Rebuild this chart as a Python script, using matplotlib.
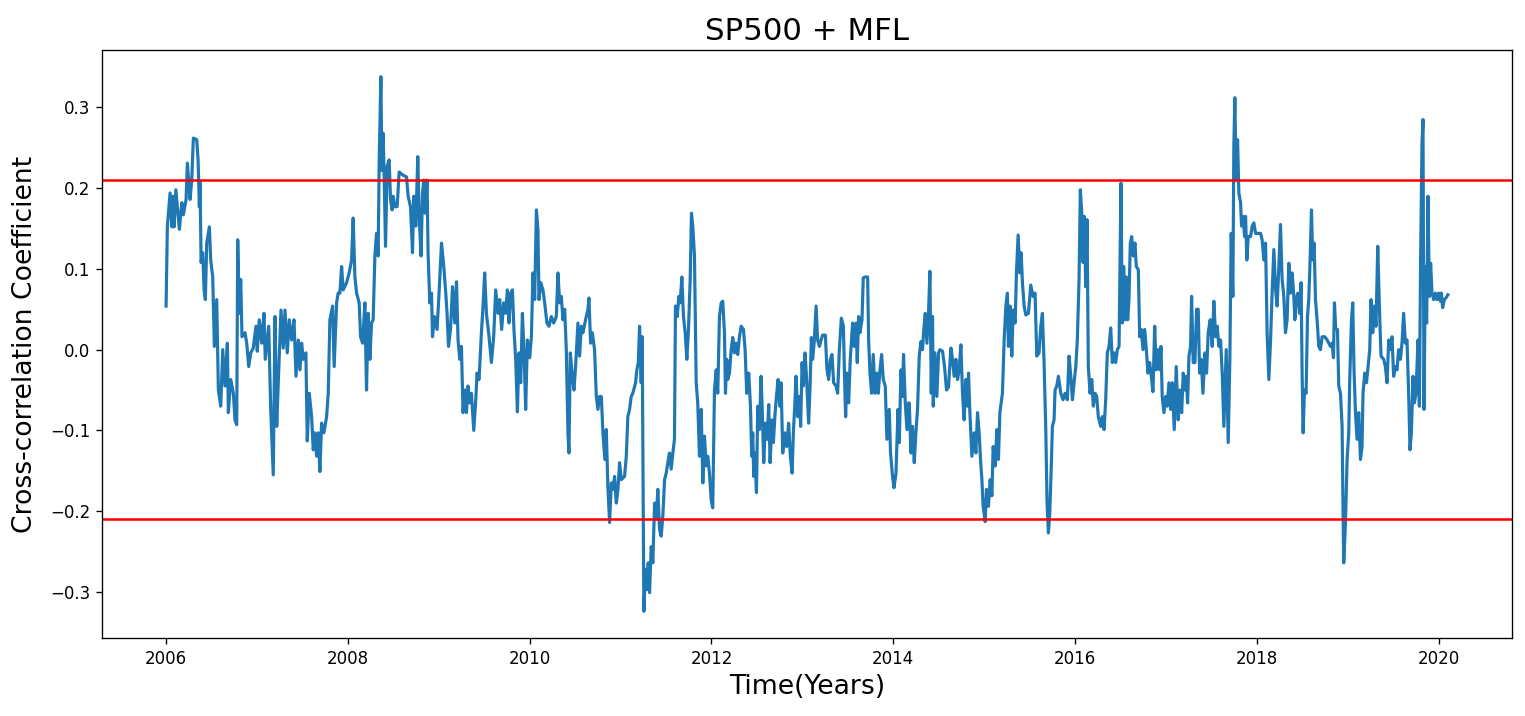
import matplotlib
matplotlib.use("Agg")
import matplotlib.pyplot as plt
import numpy as np

years = [
2006.000,2006.014,2006.044,2006.063,2006.074,2006.088,2006.107,2006.146,2006.173,2006.190,
2006.220,2006.234,2006.264,2006.282,2006.300,2006.337,2006.352,2006.366,2006.374,2006.385,
2006.403,2006.418,2006.432,2006.447,2006.476,2006.491,2006.513,2006.531,2006.557,2006.575,
2006.601,2006.623,2006.648,2006.674,2006.685,2006.711,2006.740,2006.758,2006.777,2006.788,
2006.805,2006.821,2006.835,2006.868,2006.887,2006.909,2006.931,2006.959,2006.989,2007.003,
2007.025,2007.052,2007.077,2007.091,2007.129,2007.151,2007.165,2007.179,2007.198,2007.217,
2007.234,2007.264,2007.289,2007.308,2007.333,2007.355,2007.381,2007.407,2007.429,2007.454,
2007.473,2007.491,2007.509,2007.538,2007.553,2007.575,2007.601,2007.619,2007.637,2007.656,
2007.674,2007.692,2007.711,2007.736,2007.766,2007.784,2007.802,2007.832,2007.849,2007.876,
2007.893,
2007.912,2007.931,2007.948,2007.986,2008.014,2008.041,2008.058,2008.077,2008.096,2008.124,
2008.140,2008.162,2008.187,2008.205,2008.223,2008.242,2008.260,2008.278,2008.297,2008.315,
2008.333,2008.344,2008.352,2008.363,2008.374,2008.388,2008.399,2008.414,2008.432,2008.454,
2008.469,2008.487,2008.498,2008.516,2008.542,2008.564,2008.608,2008.645,2008.663,2008.689,
2008.711,2008.725,2008.747,2008.769,2008.784,2008.805,2008.821,2008.835,2008.850,2008.871,
2008.882,2008.901,2008.920,2008.931,2008.953,2008.981,2009.003,2009.030,2009.055,2009.077,
2009.091,2009.107,2009.129,2009.151,2009.176,2009.195,2009.212,2009.231,2009.249,2009.267,
2009.286,2009.304,2009.322,2009.341,2009.359,2009.385,2009.407,2009.421,2009.443,2009.469,
2009.487,2009.505,2009.524,2009.553,2009.579,2009.604,2009.626,2009.652,2009.670,2009.692,
2009.714,2009.736,2009.755,2009.773,2009.791,2009.810,2009.827,2009.846,2009.865,2009.882,
2009.901,2009.920,2009.938,2009.956,2009.975,
2010.000,2010.019,2010.036,2010.055,2010.074,2010.091,2010.102,2010.121,2010.146,2010.165,
2010.190,2010.212,2010.238,2010.264,2010.293,2010.311,2010.330,2010.348,2010.366,2010.385,
2010.403,2010.421,2010.432,2010.447,2010.469,2010.487,2010.505,2010.531,2010.549,2010.568,
2010.586,2010.615,2010.641,2010.652,2010.670,2010.689,2010.714,2010.733,2010.751,2010.769,
2010.788,2010.806,2010.827,2010.843,2010.860,2010.879,2010.898,2010.916,2010.934,2010.953,
2010.971,2010.989,2011.008,2011.044,2011.063,2011.080,2011.099,2011.117,2011.135,2011.165,
2011.179,2011.195,2011.209,2011.227,2011.238,2011.245,2011.256,2011.275,2011.289,2011.304,
2011.319,2011.337,2011.355,2011.374,2011.392,2011.410,2011.429,2011.447,2011.465,2011.484,
2011.502,2011.520,2011.538,2011.557,2011.575,2011.593,2011.604,2011.623,2011.641,2011.656,
2011.674,2011.692,2011.711,2011.729,2011.747,2011.766,2011.780,2011.795,2011.813,2011.832,
2011.849,2011.868,2011.887,2011.905,2011.923,2011.942,2011.959,2011.978,2011.997,2012.014,
2012.033,2012.052,2012.069,2012.088,
2012.107,2012.124,2012.143,2012.154,2012.168,2012.179,2012.198,2012.217,2012.234,2012.253,
2012.271,2012.289,2012.308,2012.326,2012.352,2012.370,2012.388,2012.410,2012.429,2012.443,
2012.454,2012.465,2012.476,2012.495,2012.509,2012.527,2012.546,2012.557,2012.575,2012.593,
2012.612,2012.630,2012.645,2012.667,2012.681,2012.700,2012.718,2012.733,2012.751,2012.766,
2012.784,2012.806,2012.827,2012.849,2012.868,2012.887,2012.901,2012.916,2012.931,2012.949,
2012.967,2012.981,2012.997,2013.011,2013.030,2013.047,2013.069,2013.085,2013.099,2013.113,
2013.132,2013.151,2013.168,2013.187,2013.206,2013.223,2013.253,2013.271,2013.289,2013.308,
2013.326,2013.344,2013.370,2013.388,2013.407,2013.429,2013.451,2013.465,2013.476,2013.491,
2013.509,2013.527,2013.553,2013.571,2013.590,2013.604,2013.619,2013.634,2013.656,2013.670,
2013.692,2013.718,2013.729,2013.744,2013.762,2013.780,2013.799,2013.817,2013.835,2013.854,
2013.872,2013.890,2013.912,2013.930,2013.956,2013.970,2013.992,2014.008,2014.030,2014.052,
2014.066,2014.085,2014.102,2014.113,2014.132,2014.151,2014.168,
2014.176,2014.195,2014.212,2014.231,2014.249,2014.267,2014.286,2014.304,2014.322,2014.333,
2014.352,2014.370,2014.388,2014.403,2014.418,2014.432,2014.440,2014.458,2014.480,2014.498,
2014.513,2014.542,2014.564,2014.586,2014.608,2014.634,2014.652,2014.670,2014.689,2014.707,
2014.725,2014.744,2014.762,2014.780,2014.799,2014.817,2014.828,2014.843,2014.865,2014.890,
2014.909,2014.927,2014.945,2014.960,2014.975,2014.989,2015.011,2015.025,2015.047,2015.066,
2015.085,2015.099,2015.121,2015.140,2015.157,2015.173,2015.201,2015.220,2015.239,2015.256,
2015.267,2015.286,2015.304,2015.319,2015.341,2015.355,2015.374,2015.392,2015.407,2015.421,
2015.440,2015.458,2015.487,2015.513,2015.538,2015.560,2015.579,2015.604,2015.623,2015.641,
2015.659,2015.678,2015.692,2015.707,2015.722,2015.736,2015.751,2015.769,2015.780,2015.799,
2015.817,2015.843,2015.868,2015.890,2015.915,2015.934,2015.953,2015.971,2015.989,2016.008,
2016.025,2016.044,2016.058,2016.074,2016.088,2016.102,2016.117,2016.132,2016.146,2016.165,
2016.184,2016.201,2016.220,2016.238,2016.256,
2016.282,2016.300,2016.319,2016.337,2016.355,2016.374,2016.392,2016.410,2016.429,2016.447,
2016.465,2016.484,2016.505,2016.520,2016.535,2016.549,2016.564,2016.579,2016.593,2016.608,
2016.623,2016.641,2016.659,2016.674,2016.696,2016.711,2016.729,2016.747,2016.766,2016.784,
2016.802,2016.821,2016.839,2016.857,2016.876,2016.893,2016.912,2016.931,2016.945,2016.959,
2016.978,2016.997,2017.014,2017.033,2017.052,2017.069,2017.091,2017.113,2017.135,2017.154,
2017.173,2017.190,2017.209,2017.223,2017.238,2017.253,2017.271,2017.282,2017.300,2017.319,
2017.337,2017.355,2017.370,2017.388,2017.407,2017.429,2017.447,2017.465,2017.487,2017.509,
2017.527,2017.546,2017.564,2017.582,2017.601,2017.619,2017.637,2017.663,2017.685,2017.703,
2017.718,2017.736,2017.747,2017.758,2017.772,2017.788,2017.802,2017.821,2017.832,2017.849,
2017.865,2017.876,2017.890,2017.905,2017.931,2017.949,2017.967,2017.986,2018.014,2018.041,
2018.058,2018.077,2018.096,2018.113,2018.132,2018.151,2018.168,2018.187,2018.206,2018.223,
2018.242,2018.260,2018.278,2018.297,2018.315,2018.333,
2018.352,2018.370,2018.388,2018.407,2018.418,2018.432,2018.451,2018.469,2018.487,2018.498,
2018.509,2018.524,2018.542,2018.557,2018.571,2018.586,2018.601,2018.615,2018.630,2018.645,
2018.663,2018.681,2018.700,2018.718,2018.747,2018.773,2018.791,2018.810,2018.827,2018.843,
2018.854,2018.868,2018.887,2018.901,2018.920,2018.938,2018.949,2018.956,2018.975,2018.993,
2019.011,2019.022,2019.041,2019.055,2019.069,2019.085,2019.102,2019.121,2019.140,2019.157,
2019.168,2019.187,2019.206,2019.223,2019.242,2019.256,2019.275,2019.293,2019.311,2019.330,
2019.348,2019.366,2019.396,2019.414,2019.432,2019.451,2019.469,2019.487,2019.505,2019.524,
2019.542,2019.560,2019.579,2019.597,2019.615,2019.634,2019.652,2019.670,2019.685,2019.700,
2019.718,2019.733,2019.751,2019.773,2019.788,2019.802,2019.817,2019.828,2019.839,2019.854,
2019.868,2019.883,2019.898,2019.912,2019.927,2019.945,2019.964,2019.982,2020.000,2020.019,
2020.030,2020.044,2020.063,2020.080,2020.102,
]

corr = [
0.054,0.153,0.194,0.152,0.190,0.152,0.198,0.149,0.182,0.167,
0.186,0.231,0.186,0.210,0.262,0.260,0.235,0.177,0.207,0.108,
0.120,0.074,0.062,0.132,0.152,0.111,0.090,0.004,0.062,-0.050,
-0.070,0.000,-0.045,0.008,-0.078,-0.037,-0.054,-0.087,-0.093,0.136,
0.045,0.087,0.016,0.021,0.008,-0.021,-0.004,0.002,0.029,-0.002,
0.037,0.008,0.045,-0.012,0.029,-0.074,-0.115,-0.155,0.041,-0.095,
-0.041,0.049,0.002,0.049,-0.004,0.037,0.012,0.037,-0.033,0.012,
-0.025,0.008,-0.012,-0.004,-0.113,-0.054,-0.083,-0.124,-0.103,-0.132,
-0.103,-0.151,-0.091,-0.103,-0.083,-0.054,0.037,0.054,-0.021,0.058,
0.070,
0.070,0.103,0.074,0.083,0.095,0.111,0.163,0.090,0.070,0.058,
0.016,0.008,0.058,-0.050,0.045,-0.012,0.033,0.037,0.116,0.144,
0.116,0.231,0.276,0.338,0.222,0.268,0.215,0.128,0.227,0.235,
0.186,0.173,0.190,0.177,0.177,0.220,0.216,0.214,0.190,0.177,
0.120,0.190,0.153,0.239,0.165,0.116,0.194,0.210,0.169,0.210,
0.120,0.058,0.070,0.016,0.041,0.025,0.070,0.132,0.103,0.070,
0.045,0.004,0.025,0.078,0.033,0.084,0.012,-0.012,0.004,-0.078,
-0.050,-0.078,-0.045,-0.066,-0.054,-0.100,-0.062,-0.029,-0.037,0.021,
0.054,0.095,0.045,0.016,-0.016,0.016,0.074,0.045,0.062,0.025,
0.058,0.045,0.074,0.033,0.070,0.074,0.025,-0.012,-0.077,-0.004,
-0.041,0.045,-0.004,-0.074,0.012,
-0.010,0.016,0.095,0.062,0.173,0.148,0.062,0.083,0.074,0.058,
0.033,0.029,0.041,0.033,0.041,0.095,0.058,0.066,0.037,0.050,
0.000,-0.103,-0.128,-0.004,-0.033,-0.050,-0.021,0.033,-0.008,0.029,
0.021,0.037,0.050,0.064,0.008,0.021,0.000,-0.058,-0.074,-0.058,
-0.058,-0.103,-0.136,-0.099,-0.169,-0.214,-0.165,-0.173,-0.157,-0.190,
-0.173,-0.140,-0.161,-0.157,-0.132,-0.083,-0.074,-0.058,-0.054,-0.041,
-0.025,-0.016,0.029,-0.041,0.016,-0.124,-0.324,-0.272,-0.297,-0.264,
-0.301,-0.244,-0.264,-0.190,-0.210,-0.173,-0.223,-0.231,-0.206,-0.161,
-0.153,-0.140,-0.128,-0.148,-0.128,-0.111,0.054,0.041,0.066,0.058,
0.090,0.041,0.021,-0.012,0.025,0.087,0.169,0.152,0.116,-0.041,
-0.066,-0.132,-0.074,-0.165,-0.107,-0.144,-0.132,-0.153,-0.186,-0.196,
-0.050,-0.025,-0.054,0.041,
0.058,0.060,0.021,-0.054,-0.012,-0.037,-0.029,0.000,0.015,-0.004,
0.008,-0.006,0.016,0.029,0.025,0.000,-0.054,-0.029,-0.070,-0.132,
-0.103,-0.157,-0.128,-0.177,-0.070,-0.099,-0.033,-0.070,-0.140,-0.091,
-0.111,-0.068,-0.140,-0.087,-0.115,-0.078,-0.054,-0.037,-0.070,-0.041,
-0.128,-0.103,-0.120,-0.091,-0.132,-0.153,-0.103,-0.070,-0.033,-0.083,
-0.058,-0.095,-0.016,-0.045,-0.004,-0.037,-0.091,-0.045,0.015,-0.012,
0.012,0.054,0.012,0.004,0.012,0.018,0.018,-0.025,-0.037,-0.012,
-0.006,-0.041,-0.045,-0.054,0.000,0.039,0.029,-0.037,-0.083,-0.029,
-0.066,-0.012,0.033,0.004,0.033,-0.016,0.041,0.021,0.037,0.089,
0.090,0.090,0.012,-0.029,-0.054,-0.006,-0.054,-0.029,-0.054,-0.025,
-0.006,-0.037,-0.045,-0.111,-0.074,-0.128,-0.157,-0.171,-0.153,-0.074,
-0.115,-0.025,-0.058,-0.006,-0.066,-0.099,-0.066,
-0.066,-0.128,-0.095,-0.140,-0.103,-0.074,-0.008,0.010,0.000,0.021,
0.045,0.008,0.045,0.097,-0.054,0.041,-0.070,-0.004,-0.058,-0.004,
0.000,-0.002,-0.021,-0.050,-0.046,0.002,-0.012,-0.033,-0.012,-0.037,
-0.025,0.006,-0.054,-0.087,-0.037,-0.070,-0.029,-0.078,-0.132,-0.103,
-0.128,-0.078,-0.103,-0.136,-0.161,-0.194,-0.213,-0.173,-0.194,-0.161,
-0.181,-0.120,-0.144,-0.099,-0.136,-0.078,-0.054,0.012,0.054,0.070,
0.004,0.054,-0.008,0.049,0.033,0.095,0.142,0.095,0.120,0.083,
0.054,0.043,0.045,0.080,0.066,0.070,-0.008,-0.004,0.029,0.045,
-0.016,-0.099,-0.190,-0.227,-0.202,-0.153,-0.095,-0.087,-0.050,-0.045,
-0.033,-0.054,-0.062,-0.054,-0.062,-0.008,-0.033,-0.062,-0.041,-0.021,
0.012,0.087,0.198,0.169,0.108,0.165,0.078,0.161,-0.021,-0.054,
-0.037,-0.070,-0.054,-0.058,-0.083,
-0.095,-0.083,-0.099,-0.062,-0.004,0.004,0.027,-0.016,-0.004,-0.016,
0.000,0.004,0.206,0.033,0.103,0.037,0.090,0.037,0.062,0.132,
0.140,0.116,0.132,0.103,0.099,0.016,0.025,0.000,0.025,0.000,
-0.029,-0.016,-0.033,-0.052,0.029,-0.025,0.000,-0.025,0.004,-0.058,
-0.078,-0.058,-0.070,-0.041,-0.074,-0.041,-0.099,-0.021,-0.087,-0.050,
-0.078,-0.029,-0.050,-0.033,-0.066,-0.008,0.004,0.066,-0.016,-0.016,
0.050,0.050,-0.029,-0.012,-0.054,-0.004,-0.029,0.021,0.037,0.004,
0.060,0.016,0.029,0.004,0.012,-0.029,-0.095,0.000,-0.115,-0.012,
0.144,0.066,0.252,0.312,0.210,0.260,0.194,0.182,0.153,0.165,
0.140,0.165,0.111,0.140,0.140,0.153,0.157,0.144,0.144,0.144,
0.136,0.111,0.132,0.021,-0.037,0.012,0.070,0.124,0.074,0.054,
0.103,0.155,0.087,0.066,0.021,0.037,
0.107,0.070,0.095,0.066,0.037,0.062,0.070,0.045,0.083,-0.029,
-0.103,-0.050,-0.054,0.041,0.062,0.111,0.173,0.111,0.132,0.062,
0.037,0.004,0.000,0.016,0.016,0.012,0.008,0.004,0.008,-0.010,
0.058,0.025,0.025,-0.045,-0.054,-0.095,-0.206,-0.264,-0.214,-0.136,
-0.103,-0.037,0.037,0.058,-0.025,-0.078,-0.111,-0.078,-0.136,-0.120,
-0.054,-0.029,-0.041,-0.021,0.000,0.062,0.021,0.054,0.029,0.128,
0.054,-0.008,-0.012,-0.021,-0.041,0.012,0.000,0.016,-0.033,-0.021,
-0.025,0.000,-0.012,0.008,0.045,0.008,0.012,-0.054,-0.124,-0.103,
-0.033,-0.066,-0.054,0.012,-0.070,0.116,0.256,0.285,-0.074,0.103,
0.033,0.190,0.066,0.107,0.070,0.062,0.070,0.062,0.070,0.060,
0.070,0.052,0.062,0.064,0.068,
]

threshold = 0.21
xticks = [2006, 2008, 2010, 2012, 2014, 2016, 2018, 2020]
yticks = [-0.3, -0.2, -0.1, 0.0, 0.1, 0.2, 0.3]

DPI = 120
fig = plt.figure(figsize=(1525 / DPI, 716 / DPI), dpi=DPI)
ax = fig.add_axes([102/1525, 1-638/716, (1512-102)/1525, (638-50)/716])
ax.plot(years, corr, color="#1f77b4", lw=1.9)
ax.axhline(threshold, color="red", lw=1.5)
ax.axhline(-threshold, color="red", lw=1.5)
ax.set_xticks(xticks)
ax.set_xticklabels([str(t) for t in xticks])
ax.set_yticks(yticks)
ax.set_title("SP500 + MFL", fontsize=18.5)
ax.set_xlabel("Time(Years)", fontsize=16)
ax.set_ylabel("Cross-correlation Coefficient", fontsize=16, labelpad=7)
fig.savefig("out.png", dpi=DPI)
